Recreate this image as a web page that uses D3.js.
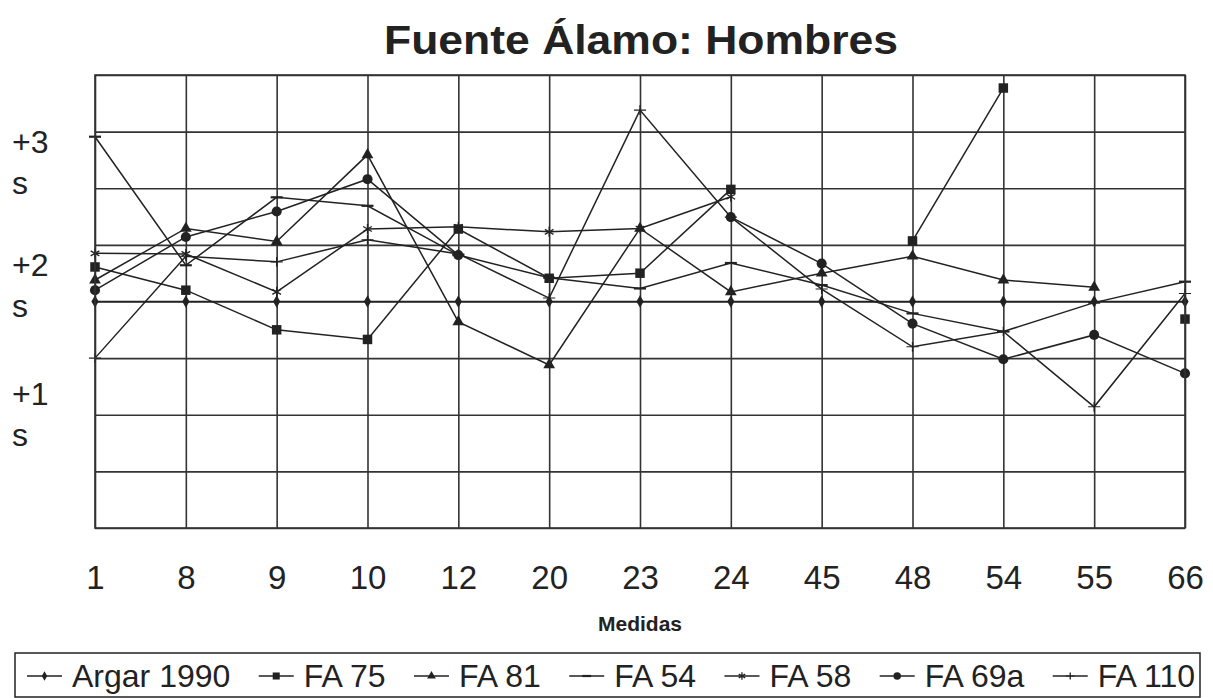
<!DOCTYPE html>
<html>
<head>
<meta charset="utf-8">
<script src="https://cdn.jsdelivr.net/npm/d3@7"></script>
<style>
  body { margin: 0; background: #fff; }
  svg { display: block; font-family: "Liberation Sans", Arial, sans-serif; }
</style>
</head>
<body>
<svg width="1213" height="698"></svg>
<script>
// categories on the x axis (measurement numbers)
const categories = ["1", "8", "9", "10", "12", "20", "23", "24", "45", "48", "54", "55", "66"];

// values in grid units (0 = bottom of plot, 8 = top); null = missing
const argar1990 = [4, 4, 4, 4, 4, 4, 4, 4, 4, 4, 4, 4, 4];
const fa75  = [4.61, 4.20, 3.50, 3.33, 5.28, 4.41, 4.50, 5.98, null, 5.07, 7.77, null, 3.69];
const fa81  = [4.38, 5.29, 5.06, 6.59, 3.64, 2.88, 5.29, 4.17, 4.50, 4.80, 4.38, 4.25, null];
const fa54  = [6.91, 4.64, 5.84, 5.69, 4.82, 4.42, 4.23, 4.68, 4.29, 3.79, 3.47, 3.98, 4.35];
const fa58  = [4.85, 4.84, 4.17, 5.28, 5.32, 5.23, 5.29, 5.85, null, null, null, null, null];
const fa69a = [4.20, 5.14, 5.59, 6.16, 4.82, null, null, 5.49, 4.67, 3.61, 2.98, 3.41, 2.73];
const fa110 = [3.00, 4.80, 4.70, 5.09, 4.84, 4.06, 7.38, 5.49, 4.22, 3.20, 3.47, 2.14, 4.14];

const seriesNames = ["Argar 1990", "FA 75", "FA 81", "FA 54", "FA 58", "FA 69a", "FA 110"];
const seriesValues = [argar1990, fa75, fa81, fa54, fa58, fa69a, fa110];
const seriesMarkers = ["diamond", "square", "triangle", "dash", "asterisk", "circle", "plus"];

// y side labels
const yLabels = [["+3", "s"], ["+2", "s"], ["+1", "s"]];
const yLabelAt = [6.62, 4.45, 2.17];

const svg = d3.select("svg");
const plot = {left: 95, right: 1185, top: 75, bottom: 528};
const ink = "#222";

const x = d3.scalePoint().domain(categories).range([plot.left, plot.right]);
const y = d3.scaleLinear().domain([0, 8]).range([plot.bottom, plot.top]);

// title
svg.append("text")
  .attr("x", 641).attr("y", 54)
  .attr("text-anchor", "middle")
  .attr("font-size", 40).attr("font-weight", "bold")
  .attr("textLength", 514).attr("lengthAdjust", "spacingAndGlyphs")
  .attr("fill", ink)
  .text("Fuente Álamo: Hombres");

// grid
const gy = svg.append("g")
  .attr("transform", "translate(" + plot.left + ",0)")
  .call(d3.axisLeft(y).tickValues(d3.range(0, 9)).tickSize(-(plot.right - plot.left)).tickFormat(""));
gy.select(".domain").remove();
gy.selectAll("line").attr("stroke", "#333").attr("stroke-width", 1.6);

const gx = svg.append("g")
  .attr("transform", "translate(0," + plot.bottom + ")")
  .call(d3.axisBottom(x).tickSize(-(plot.bottom - plot.top)).tickSizeOuter(0).tickPadding(38));
gx.select(".domain").remove();
gx.selectAll("line").attr("stroke", "#333").attr("stroke-width", 1.6);
gx.selectAll("text")
  .attr("font-size", 33).attr("fill", ink)
  .attr("font-family", "'Liberation Sans', Arial, sans-serif");

// axis title
svg.append("text")
  .attr("x", 640).attr("y", 631)
  .attr("text-anchor", "middle")
  .attr("font-size", 21).attr("font-weight", "bold")
  .attr("fill", ink)
  .text("Medidas");

// y labels
yLabels.forEach((lab, i) => {
  const t = svg.append("text")
    .attr("x", 12).attr("y", y(yLabelAt[i]))
    .attr("font-size", 32).attr("fill", ink);
  t.append("tspan").attr("x", 12).text(lab[0]);
  t.append("tspan").attr("x", 12).attr("dy", 41).text(lab[1]);
});

// markers
function drawMarker(g, type, cx, cy, s) {
  s = s || 1;
  if (type === "diamond") {
    g.append("path").attr("d", d3.symbol(d3.symbolDiamond, 45 * s)())
      .attr("transform", `translate(${cx},${cy})`).attr("fill", ink);
  } else if (type === "square") {
    g.append("path").attr("d", d3.symbol(d3.symbolSquare, 90 * s)())
      .attr("transform", `translate(${cx},${cy})`).attr("fill", ink);
  } else if (type === "triangle") {
    g.append("path").attr("d", d3.symbol(d3.symbolTriangle, 60 * s)())
      .attr("transform", `translate(${cx},${cy})`).attr("fill", ink);
  } else if (type === "circle") {
    g.append("path").attr("d", d3.symbol(d3.symbolCircle, 80 * s)())
      .attr("transform", `translate(${cx},${cy})`).attr("fill", ink);
  } else if (type === "asterisk") {
    g.append("path").attr("d", d3.symbol(d3.symbolAsterisk, 70 * s)())
      .attr("transform", `translate(${cx},${cy})`).attr("fill", "none")
      .attr("stroke", ink).attr("stroke-width", 1.3);
  } else if (type === "plus") {
    g.append("path").attr("d", d3.symbol(d3.symbolPlus, 50 * s)())
      .attr("transform", `translate(${cx},${cy}) scale(1,0.8)`).attr("fill", "none")
      .attr("stroke", ink).attr("stroke-width", 1.3);
  } else if (type === "dash") {
    const w = 6 * Math.sqrt(s);
    g.append("line").attr("x1", cx - w).attr("x2", cx + w).attr("y1", cy).attr("y2", cy)
      .attr("stroke", ink).attr("stroke-width", 2.2);
  }
}

// series
const line = d3.line()
  .defined(d => d.v != null)
  .x(d => x(d.c))
  .y(d => y(d.v));

seriesValues.forEach((vals, i) => {
  const pts = vals.map((v, j) => ({c: categories[j], v: v}));
  const g = svg.append("g");
  g.append("path")
    .attr("d", line(pts))
    .attr("fill", "none")
    .attr("stroke", ink)
    .attr("stroke-width", 1.5);
  pts.filter(d => d.v != null).forEach(d => drawMarker(g, seriesMarkers[i], x(d.c), y(d.v)));
});

// plot border
svg.append("rect")
  .attr("x", plot.left).attr("y", plot.top)
  .attr("width", plot.right - plot.left).attr("height", plot.bottom - plot.top)
  .attr("fill", "none").attr("stroke", "#333").attr("stroke-width", 1.6);

// legend: items spread so the last label ends at the right edge of the box
const leg = svg.append("g");
leg.append("rect")
  .attr("x", 15).attr("y", 653).attr("width", 1185).attr("height", 44)
  .attr("fill", "#fff").attr("stroke", ink).attr("stroke-width", 1.5);
const keyW = 35, keyGap = 10, legStart = 27, legEnd = 1195;
const texts = seriesNames.map(name => leg.append("text")
  .attr("y", 687).attr("font-size", 32).attr("fill", ink).text(name));
const widths = texts.map(t => t.node().getComputedTextLength());
const gap = (legEnd - legStart - seriesNames.length * (keyW + keyGap) - d3.sum(widths)) / (seriesNames.length - 1);
let lx = legStart;
seriesNames.forEach((name, i) => {
  const ly = 676;
  leg.append("line").attr("x1", lx).attr("x2", lx + keyW).attr("y1", ly).attr("y2", ly)
    .attr("stroke", ink).attr("stroke-width", 1.5);
  drawMarker(leg, seriesMarkers[i], lx + keyW / 2, ly, 0.55);
  texts[i].attr("x", lx + keyW + keyGap);
  lx = lx + keyW + keyGap + widths[i] + gap;
});
</script>
</body>
</html>
